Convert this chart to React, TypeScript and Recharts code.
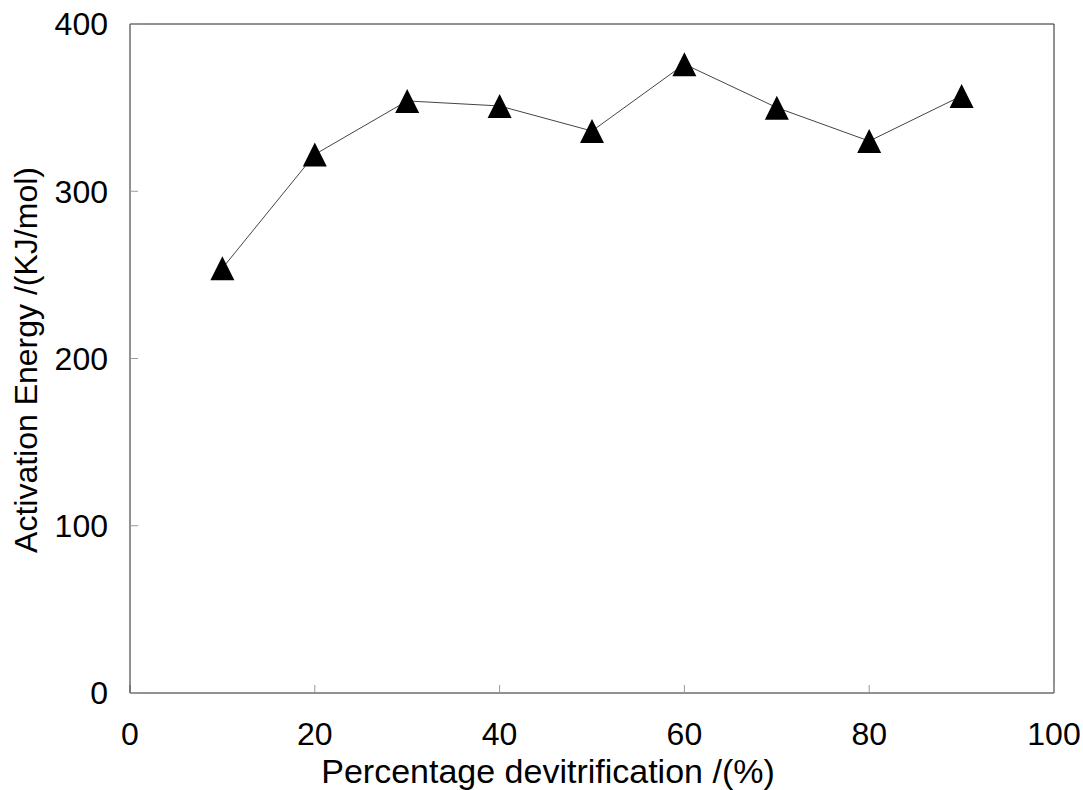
import { LineChart, Line, XAxis, YAxis, ReferenceLine } from "recharts"

const devitrification = [10, 20, 30, 40, 50, 60, 70, 80, 90]
const activationEnergy = [254, 322, 354, 351, 336, 376, 350, 330, 357]
const xTicks = [0, 20, 40, 60, 80, 100]
const yTicks = [0, 100, 200, 300, 400]

const data = devitrification.map((x, i) => ({ x, energy: activationEnergy[i] }))

const font = "'Liberation Sans', Arial, sans-serif"

function Triangle(props: any) {
  const { cx, cy } = props
  if (cx == null || cy == null) return null
  return <polygon points={`${cx},${cy - 12} ${cx + 12},${cy + 12} ${cx - 12},${cy + 12}`} fill="#000" />
}

export default function App() {
  return (
    <div style={{ position: "absolute", left: 0, top: 0, background: "#fff" }}>
      <LineChart width={1083} height={790} data={data} margin={{ top: 24, right: 29, left: 0, bottom: 0 }}>
        <XAxis
          type="number"
          dataKey="x"
          domain={[0, 100]}
          ticks={xTicks}
          height={97}
          stroke="#222"
          tickSize={-8}
          tickMargin={37}
          tick={{ fill: "#000", fontSize: 32, fontFamily: font }}
          tickLine={{ stroke: "#999" }}
          label={{
            content: () => (
              <text x={548} y={783} textAnchor="middle" fontSize={34} fontFamily={font} fill="#000">
                Percentage devitrification /(%)
              </text>
            ),
          }}
        />
        <YAxis
          type="number"
          domain={[0, 400]}
          ticks={yTicks}
          width={130}
          stroke="#222"
          tickSize={-8}
          tickMargin={30}
          tick={{ fill: "#000", fontSize: 32, fontFamily: font }}
          tickLine={{ stroke: "#999" }}
          label={{
            content: () => (
              <text x={37} y={360} transform="rotate(-90 37 360)" textAnchor="middle" fontSize={32} fontFamily={font} fill="#000">
                Activation Energy /(KJ/mol)
              </text>
            ),
          }}
        />
        <ReferenceLine x={100} stroke="#222" />
        <ReferenceLine y={400} stroke="#222" />
        <Line
          dataKey="energy"
          stroke="#444"
          strokeWidth={1}
          dot={<Triangle />}
          activeDot={false}
          isAnimationActive={false}
        />
      </LineChart>
    </div>
  )
}
